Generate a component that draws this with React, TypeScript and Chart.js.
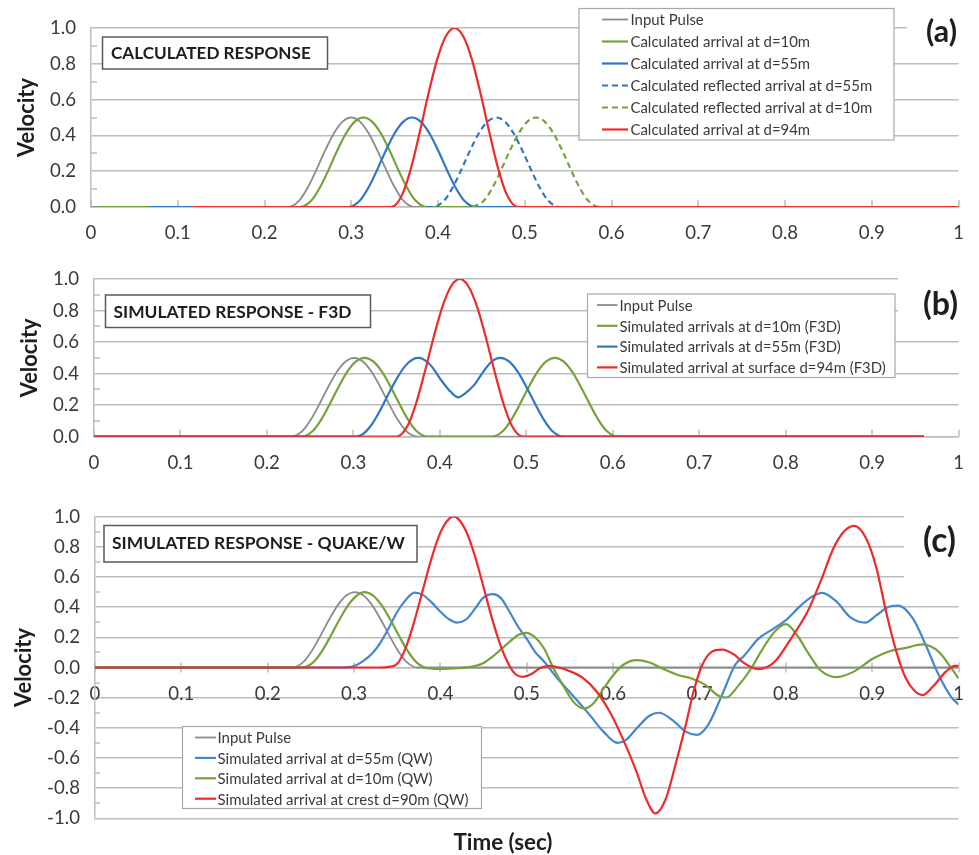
import React, { useEffect, useRef } from "react";
import { Chart, registerables } from "chart.js";

Chart.register(...registerables);

// ---------------- tick labels & texts ----------------
const timeTickLabels = ["0", "0.1", "0.2", "0.3", "0.4", "0.5", "0.6", "0.7", "0.8", "0.9", "1"];
const velocityTicksPos = ["0.0", "0.2", "0.4", "0.6", "0.8", "1.0"];
const velocityTicksFull = ["-1.0", "-0.8", "-0.6", "-0.4", "-0.2", "0.0", "0.2", "0.4", "0.6", "0.8", "1.0"];
const panelTitles = ["CALCULATED RESPONSE", "SIMULATED RESPONSE - F3D", "SIMULATED RESPONSE - QUAKE/W"];
const panelTags = ["(a)", "(b)", "(c)"];
const yAxisTitle = "Velocity";
const xAxisTitle = "Time (sec)";

// ---------------- panel (a): calculated response ----------------
const aLabels = [
  "Input Pulse",
  "Calculated arrival at d=10m",
  "Calculated arrival at d=55m",
  "Calculated reflected arrival at d=55m",
  "Calculated reflected arrival at d=10m",
  "Calculated arrival at d=94m",
];
const aInputT = [0, 0.227, 0.24, 0.25, 0.26, 0.27, 0.28, 0.29, 0.3, 0.31, 0.32, 0.33, 0.34, 0.35, 0.36, 0.373, 1.0];
const aInputV = [0, 0, 0.036, 0.11, 0.21, 0.317, 0.412, 0.477, 0.5, 0.477, 0.412, 0.317, 0.21, 0.11, 0.036, 0, 0];
const aD10T = [0.01, 0.241, 0.254, 0.264, 0.274, 0.284, 0.294, 0.304, 0.314, 0.324, 0.334, 0.344, 0.354, 0.364, 0.374, 0.387, 1.0];
const aD10V = [0, 0, 0.036, 0.11, 0.21, 0.317, 0.412, 0.477, 0.5, 0.477, 0.412, 0.317, 0.21, 0.11, 0.036, 0, 0];
const aD55T = [0.067, 0.297, 0.31, 0.32, 0.33, 0.34, 0.35, 0.36, 0.37, 0.38, 0.39, 0.4, 0.41, 0.42, 0.43, 0.443, 1.0];
const aD55V = [0, 0, 0.036, 0.11, 0.21, 0.317, 0.412, 0.477, 0.5, 0.477, 0.412, 0.317, 0.21, 0.11, 0.036, 0, 0];
const aRefl55T = [0.387, 0.394, 0.407, 0.417, 0.427, 0.437, 0.447, 0.457, 0.467, 0.477, 0.487, 0.497, 0.507, 0.517, 0.527, 0.54, 0.62];
const aRefl55V = [0, 0, 0.036, 0.11, 0.21, 0.317, 0.412, 0.477, 0.5, 0.477, 0.412, 0.317, 0.21, 0.11, 0.036, 0, 0];
const aRefl10T = [0.44, 0.453, 0.463, 0.473, 0.483, 0.493, 0.503, 0.513, 0.523, 0.533, 0.543, 0.553, 0.563, 0.573, 0.586, 0.66];
const aRefl10V = [0, 0.036, 0.11, 0.21, 0.317, 0.412, 0.477, 0.5, 0.477, 0.412, 0.317, 0.21, 0.11, 0.036, 0, 0];
const aD94T = [0.117, 0.346, 0.359, 0.369, 0.379, 0.389, 0.399, 0.409, 0.419, 0.429, 0.439, 0.449, 0.459, 0.469, 0.479, 0.492, 1.0];
const aD94V = [0, 0, 0.072, 0.22, 0.42, 0.634, 0.825, 0.954, 1, 0.954, 0.825, 0.634, 0.42, 0.22, 0.072, 0, 0];

// ---------------- panel (b): simulated response F3D ----------------
const bLabels = [
  "Input Pulse",
  "Simulated arrivals at d=10m (F3D)",
  "Simulated arrivals at d=55m (F3D)",
  "Simulated arrival at surface d=94m (F3D)",
];
const bInputT = [0, 0.228, 0.241, 0.251, 0.261, 0.271, 0.281, 0.291, 0.301, 0.311, 0.321, 0.331, 0.341, 0.351, 0.361, 0.374, 0.96];
const bInputV = [0, 0, 0.036, 0.11, 0.21, 0.317, 0.412, 0.477, 0.5, 0.477, 0.412, 0.317, 0.21, 0.11, 0.036, 0, 0];
const bD10T = [0, 0.24, 0.253, 0.263, 0.273, 0.283, 0.293, 0.303, 0.313, 0.323, 0.333, 0.343, 0.353, 0.363, 0.373, 0.386,
  0.46, 0.473, 0.483, 0.493, 0.503, 0.513, 0.523, 0.533, 0.543, 0.553, 0.563, 0.573, 0.583, 0.593, 0.606, 0.96];
const bD10V = [0, 0, 0.036, 0.11, 0.21, 0.317, 0.412, 0.477, 0.5, 0.477, 0.412, 0.317, 0.21, 0.11, 0.036, 0,
  0, 0.036, 0.11, 0.21, 0.317, 0.412, 0.477, 0.5, 0.477, 0.412, 0.317, 0.21, 0.11, 0.036, 0, 0];
const bD55T = [0, 0.3, 0.31, 0.32, 0.33, 0.34, 0.35, 0.36, 0.37, 0.375, 0.38, 0.39, 0.4, 0.41, 0.421, 0.43, 0.44, 0.45,
  0.46, 0.47, 0.48, 0.49, 0.5, 0.51, 0.52, 0.53, 0.543, 0.96];
const bD55V = [0, 0, 0.013, 0.068, 0.157, 0.264, 0.367, 0.449, 0.494, 0.5, 0.494, 0.449, 0.37, 0.3, 0.25, 0.278, 0.33, 0.41,
  0.477, 0.5, 0.477, 0.412, 0.317, 0.21, 0.11, 0.036, 0, 0];
const bD94T = [0, 0.35, 0.363, 0.373, 0.383, 0.393, 0.403, 0.413, 0.423, 0.433, 0.443, 0.453, 0.463, 0.473, 0.483, 0.496, 0.96];
const bD94V = [0, 0, 0.072, 0.22, 0.42, 0.634, 0.825, 0.954, 1, 0.954, 0.825, 0.634, 0.42, 0.22, 0.072, 0, 0];

// ---------------- panel (c): simulated response QUAKE/W ----------------
const cLabels = [
  "Input Pulse",
  "Simulated arrival at d=55m (QW)",
  "Simulated arrival at d=10m (QW)",
  "Simulated arrival at crest d=90m (QW)",
];
const cInputT = [0, 0.228, 0.241, 0.251, 0.261, 0.271, 0.281, 0.291, 0.301, 0.311, 0.321, 0.331, 0.341, 0.351, 0.361, 0.374, 1.0];
const cInputV = [0, 0, 0.036, 0.11, 0.21, 0.317, 0.412, 0.477, 0.5, 0.477, 0.412, 0.317, 0.21, 0.11, 0.036, 0, 0];
const cD55T = [0, 0.285, 0.3, 0.31, 0.322, 0.33, 0.34, 0.35, 0.36, 0.37, 0.38, 0.39, 0.4, 0.41, 0.419, 0.43, 0.44, 0.45,
  0.461, 0.47, 0.48, 0.49, 0.5, 0.51, 0.52, 0.535, 0.554, 0.573, 0.589, 0.605, 0.615, 0.627, 0.642, 0.653, 0.669, 0.684,
  0.697, 0.71, 0.726, 0.741, 0.752, 0.768, 0.785, 0.8, 0.817, 0.829, 0.842, 0.859, 0.874, 0.892, 0.905, 0.918, 0.93,
  0.947, 0.962, 0.977, 0.992, 1.0];
const cD55V = [0, 0, 0.01, 0.04, 0.1, 0.16, 0.26, 0.37, 0.45, 0.497, 0.48, 0.43, 0.37, 0.32, 0.298, 0.32, 0.39, 0.465,
  0.486, 0.46, 0.37, 0.27, 0.19, 0.1, 0.04, -0.07, -0.19, -0.316, -0.427, -0.5, -0.48, -0.405, -0.32, -0.3, -0.35, -0.425,
  -0.447, -0.38, -0.183, 0.015, 0.08, 0.19, 0.255, 0.314, 0.41, 0.465, 0.495, 0.435, 0.336, 0.298, 0.347, 0.4, 0.41,
  0.325, 0.148, -0.05, -0.2, -0.245];
const cD10T = [0, 0.24, 0.253, 0.263, 0.273, 0.283, 0.293, 0.303, 0.312, 0.322, 0.332, 0.342, 0.352, 0.362, 0.372, 0.385,
  0.4, 0.42, 0.44, 0.45, 0.46, 0.47, 0.48, 0.49, 0.499, 0.509, 0.52, 0.531, 0.543, 0.554, 0.566, 0.577, 0.589, 0.6, 0.611,
  0.627, 0.642, 0.657, 0.676, 0.691, 0.707, 0.722, 0.731, 0.745, 0.76, 0.771, 0.787, 0.8, 0.813, 0.825, 0.84, 0.859,
  0.878, 0.901, 0.92, 0.939, 0.958, 0.977, 0.992, 1.0];
const cD10V = [0, 0, 0.036, 0.11, 0.21, 0.317, 0.412, 0.477, 0.5, 0.477, 0.412, 0.317, 0.21, 0.11, 0.036, -0.005,
  -0.01, -0.005, 0.01, 0.03, 0.07, 0.12, 0.17, 0.215, 0.23, 0.203, 0.126, -0.007, -0.128, -0.228, -0.272, -0.239, -0.139,
  -0.051, 0.015, 0.049, 0.033, -0.007, -0.051, -0.073, -0.117, -0.188, -0.199, -0.12, -0.005, 0.104, 0.237, 0.287,
  0.214, 0.104, -0.018, -0.064, -0.029, 0.06, 0.108, 0.13, 0.153, 0.104, -0.007, -0.073];
const cCrestT = [0, 0.33, 0.34, 0.35, 0.36, 0.37, 0.38, 0.39, 0.4, 0.41, 0.415, 0.42, 0.43, 0.44, 0.45, 0.46, 0.47, 0.48,
  0.487, 0.495, 0.505, 0.515, 0.526, 0.537, 0.547, 0.566, 0.581, 0.596, 0.611, 0.627, 0.638, 0.649, 0.661, 0.672, 0.684,
  0.693, 0.703, 0.714, 0.726, 0.741, 0.749, 0.768, 0.787, 0.806, 0.825, 0.84, 0.855, 0.867, 0.879, 0.893, 0.905, 0.916,
  0.928, 0.939, 0.95, 0.958, 0.97, 0.985, 0.996, 1.0];
const cCrestV = [0, 0, 0.004, 0.025, 0.134, 0.311, 0.523, 0.73, 0.896, 0.987, 1.0, 0.989, 0.9, 0.738, 0.531, 0.319, 0.14,
  0.01, -0.045, -0.062, -0.045, -0.005, 0.011, 0.0, -0.018, -0.073, -0.161, -0.294, -0.47, -0.69, -0.87, -0.968, -0.87,
  -0.648, -0.382, -0.161, 0.015, 0.104, 0.119, 0.082, 0.04, -0.011, 0.038, 0.192, 0.369, 0.568, 0.789, 0.9, 0.939, 0.855,
  0.656, 0.369, 0.104, -0.073, -0.161, -0.183, -0.128, -0.029, 0.011, 0.01];

// ---------------- styling ----------------
const FONT = "Lato, 'Open Sans', 'DejaVu Sans', sans-serif";
const GRAY = "#8c8c8c";
const GREEN = "#77a23b";
const BLUE = "#2f77c4";
const BLUE_C = "#4587cd";
const RED = "#ee2a2a";
const GRID = "#bdbdbd";
const TEXT = "#3a3a3a";

function measureW(text: string, weight: string, size: number): number {
  const c = document.createElement("canvas").getContext("2d")!;
  c.font = `${weight} ${size}px ${FONT}`;
  return c.measureText(text).width;
}
function fitSize(text: string, weight: string, target: number): number {
  return (100 * target) / measureW(text, weight, 100);
}

const pts = (t: number[], v: number[]) => t.map((x, i) => ({ x, y: v[i] }));

type Decor = {
  tickUp: number;
  tickDown: number;
  minorLen: number;
  titleBox: { x: number; y: number; w: number; h: number; textX: number; textY: number; textW: number; text: string };
  tag: { text: string; cx: number; cy: number; w: number; clear: [number, number, number, number] };
  legend: { x: number; y: number; w: number; h: number; rowY0: number; gap: number; lx0: number; lx1: number; textX: number; textW: number };
  extra?: { text: string; cx: number; cy: number; w: number }[];
};

function makeDecor(d: Decor) {
  return {
    id: "decor",
    beforeDatasetsDraw(chart: any) {
      const { ctx, chartArea } = chart;
      const xs = chart.scales.x;
      const ys = chart.scales.y;
      ctx.save();
      ctx.strokeStyle = GRID;
      ctx.lineWidth = 1.5;
      const y0 = ys.getPixelForValue(0);
      ctx.beginPath();
      xs.ticks.forEach((t: any) => {
        const px = Math.round(xs.getPixelForValue(t.value));
        ctx.moveTo(px, y0 - d.tickUp);
        ctx.lineTo(px, y0 + d.tickDown);
      });
      const tv = ys.ticks.map((t: any) => t.value);
      for (let i = 0; i < tv.length - 1; i++) {
        const py = Math.round(ys.getPixelForValue((tv[i] + tv[i + 1]) / 2));
        ctx.moveTo(chartArea.left, py);
        ctx.lineTo(chartArea.left + d.minorLen, py);
      }
      ctx.stroke();
      ctx.restore();
    },
    afterDraw(chart: any) {
      const { ctx } = chart;
      ctx.save();
      // tag with white background
      const [cx0, cy0, cw, ch] = d.tag.clear;
      ctx.fillStyle = "#ffffff";
      ctx.fillRect(cx0, cy0, cw, ch);
      const tagSize = fitSize(d.tag.text, "bold", d.tag.w);
      ctx.font = `bold ${tagSize}px ${FONT}`;
      ctx.fillStyle = "#1e1e1e";
      ctx.textAlign = "center";
      ctx.textBaseline = "middle";
      ctx.fillText(d.tag.text, d.tag.cx, d.tag.cy);

      // title box
      const tb = d.titleBox;
      ctx.fillStyle = "#ffffff";
      ctx.fillRect(tb.x, tb.y, tb.w, tb.h);
      ctx.strokeStyle = "#5a5a5a";
      ctx.lineWidth = 1.5;
      ctx.strokeRect(tb.x, tb.y, tb.w, tb.h);
      const ts = fitSize(tb.text, "bold", tb.textW);
      ctx.font = `bold ${ts}px ${FONT}`;
      ctx.fillStyle = "#1e1e1e";
      ctx.textAlign = "left";
      ctx.fillText(tb.text, tb.textX, tb.textY);

      // legend
      const L = d.legend;
      const ds = chart.data.datasets;
      ctx.fillStyle = "#ffffff";
      ctx.fillRect(L.x, L.y, L.w, L.h);
      ctx.strokeStyle = "#a8a8a8";
      ctx.lineWidth = 1.2;
      ctx.strokeRect(L.x, L.y, L.w, L.h);
      let widest = 0;
      ds.forEach((s: any) => { widest = Math.max(widest, measureW(s.label, "normal", 100)); });
      const ls = (100 * L.textW) / widest;
      ctx.font = `${ls}px ${FONT}`;
      ds.forEach((s: any, i: number) => {
        const y = L.rowY0 + i * L.gap;
        ctx.save();
        ctx.strokeStyle = s.borderColor;
        ctx.lineWidth = s.borderWidth;
        ctx.setLineDash(s.borderDash || []);
        ctx.beginPath();
        ctx.moveTo(L.lx0, y);
        ctx.lineTo(L.lx1, y);
        ctx.stroke();
        ctx.restore();
        ctx.fillStyle = TEXT;
        ctx.textAlign = "left";
        ctx.textBaseline = "middle";
        ctx.fillText(s.label, L.textX, y + 1);
      });

      (d.extra || []).forEach((e) => {
        const es = fitSize(e.text, "bold", e.w);
        ctx.font = `bold ${es}px ${FONT}`;
        ctx.fillStyle = "#1e1e1e";
        ctx.textAlign = "center";
        ctx.textBaseline = "middle";
        ctx.fillText(e.text, e.cx, e.cy);
      });
      ctx.restore();
    },
  };
}

type PanelCfg = {
  datasets: any[];
  yMin: number;
  yLabels: string[];
  padTop: number;
  padRight: number;
  padBottom: number;
  yWidth: number;
  xHeight: number;
  xAtZero: boolean;
  yTitleX: number;
  decor: Decor;
};

function buildChart(canvas: HTMLCanvasElement, cfg: PanelCfg) {
  const tickSize = fitSize("0.8", "normal", 26);
  const yTitleSize = fitSize(yAxisTitle, "bold", 79);
  const yTitleLH = yTitleSize * 1.2;
  const n = cfg.datasets.length;
  const datasets = cfg.datasets.map((d, i) => ({
    pointRadius: 0,
    pointHoverRadius: 0,
    fill: false,
    cubicInterpolationMode: "monotone",
    order: n - i,
    ...d,
  }));
  return new Chart(canvas, {
    type: "line",
    data: { datasets },
    plugins: [makeDecor(cfg.decor)],
    options: {
      responsive: false,
      animation: false,
      events: [],
      layout: { padding: { left: 0, top: cfg.padTop, right: cfg.padRight, bottom: cfg.padBottom } },
      plugins: { legend: { display: false }, tooltip: { enabled: false }, title: { display: false } },
      scales: {
        x: {
          type: "linear",
          min: 0,
          max: 1,
          position: cfg.xAtZero ? { y: 0 } : "bottom",
          afterFit: (s: any) => { s.height = cfg.xHeight; },
          grid: { drawOnChartArea: false, drawTicks: false },
          border: { display: true, color: GRID, width: 1.5 },
          ticks: {
            stepSize: 0.1,
            autoSkip: false,
            maxRotation: 0,
            padding: 15,
            color: TEXT,
            font: { family: FONT, size: tickSize },
            callback: (_v: any, i: number) => timeTickLabels[i],
          },
        },
        y: {
          type: "linear",
          min: cfg.yMin,
          max: 1,
          afterFit: (s: any) => { s.width = cfg.yWidth; },
          grid: { color: GRID, lineWidth: 1.5, drawTicks: false },
          border: { display: true, color: GRID, width: 1.5 },
          ticks: {
            stepSize: 0.2,
            padding: 15,
            color: TEXT,
            font: { family: FONT, size: tickSize },
            callback: (_v: any, i: number) => cfg.yLabels[i],
          },
          title: {
            display: true,
            text: yAxisTitle,
            color: "#1e1e1e",
            font: { family: FONT, size: yTitleSize, weight: "bold" },
            padding: { top: cfg.yTitleX - yTitleLH / 2, bottom: 0 },
          },
        },
      },
    } as any,
  });
}

export default function App() {
  const refA = useRef<HTMLCanvasElement>(null);
  const refB = useRef<HTMLCanvasElement>(null);
  const refC = useRef<HTMLCanvasElement>(null);

  useEffect(() => {
    const charts: Chart[] = [];
    charts.push(
      buildChart(refA.current!, {
        datasets: [
          { label: aLabels[0], data: pts(aInputT, aInputV), borderColor: GRAY, borderWidth: 1.8 },
          { label: aLabels[1], data: pts(aD10T, aD10V), borderColor: GREEN, borderWidth: 2.2 },
          { label: aLabels[2], data: pts(aD55T, aD55V), borderColor: BLUE, borderWidth: 2.2 },
          { label: aLabels[3], data: pts(aRefl55T, aRefl55V), borderColor: BLUE, borderWidth: 2.2, borderDash: [6, 4] },
          { label: aLabels[4], data: pts(aRefl10T, aRefl10V), borderColor: GREEN, borderWidth: 2.2, borderDash: [6, 4] },
          { label: aLabels[5], data: pts(aD94T, aD94V), borderColor: RED, borderWidth: 2.2 },
        ],
        yMin: 0,
        yLabels: velocityTicksPos,
        padTop: 28,
        padRight: 13,
        padBottom: 0,
        yWidth: 91,
        xHeight: 33,
        xAtZero: false,
        yTitleX: 27,
        decor: {
          tickUp: 7,
          tickDown: 0,
          minorLen: 6,
          titleBox: { x: 102.5, y: 37, w: 225, h: 32, textX: 111, textY: 53.5, textW: 200, text: panelTitles[0] },
          tag: { text: panelTags[0], cx: 941.5, cy: 32.5, w: 31, clear: [907, 14, 72, 36] },
          legend: { x: 579, y: 8.5, w: 315, h: 131.5, rowY0: 19.5, gap: 22, lx0: 602, lx1: 628, textX: 630.5, textW: 242 },
        },
      })
    );
    charts.push(
      buildChart(refB.current!, {
        datasets: [
          { label: bLabels[0], data: pts(bInputT, bInputV), borderColor: GRAY, borderWidth: 1.8 },
          { label: bLabels[1], data: pts(bD10T, bD10V), borderColor: GREEN, borderWidth: 2.2 },
          { label: bLabels[2], data: pts(bD55T, bD55V), borderColor: BLUE, borderWidth: 2.2 },
          { label: bLabels[3], data: pts(bD94T, bD94V), borderColor: RED, borderWidth: 2.2 },
        ],
        yMin: 0,
        yLabels: velocityTicksPos,
        padTop: 39,
        padRight: 9,
        padBottom: 0,
        yWidth: 94,
        xHeight: 43.3,
        xAtZero: false,
        yTitleX: 29.5,
        decor: {
          tickUp: 7,
          tickDown: 0,
          minorLen: 6,
          titleBox: { x: 105.5, y: 55, w: 265, h: 32.5, textX: 113.5, textY: 72, textW: 238, text: panelTitles[1] },
          tag: { text: panelTags[1], cx: 940.5, cy: 65, w: 35, clear: [898, 34, 81, 54] },
          legend: { x: 587.5, y: 54, w: 307.5, h: 83.5, rowY0: 65, gap: 20.8, lx0: 597, lx1: 617.5, textX: 619.5, textW: 266.5 },
        },
      })
    );
    charts.push(
      buildChart(refC.current!, {
        datasets: [
          { label: cLabels[0], data: pts(cInputT, cInputV), borderColor: GRAY, borderWidth: 1.8 },
          { label: cLabels[1], data: pts(cD55T, cD55V), borderColor: BLUE_C, borderWidth: 2.2 },
          { label: cLabels[2], data: pts(cD10T, cD10V), borderColor: GREEN, borderWidth: 2.2 },
          { label: cLabels[3], data: pts(cCrestT, cCrestV), borderColor: RED, borderWidth: 2.2 },
        ],
        yMin: -1,
        yLabels: velocityTicksFull,
        padTop: 56.7,
        padRight: 9,
        padBottom: 36.7,
        yWidth: 95,
        xHeight: 0,
        xAtZero: true,
        yTitleX: 24,
        decor: {
          tickUp: 5,
          tickDown: 5,
          minorLen: 5,
          titleBox: { x: 104, y: 65.5, w: 313, h: 36.5, textX: 112, textY: 83, textW: 293, text: panelTitles[2] },
          tag: { text: panelTags[2], cx: 939.5, cy: 81, w: 33, clear: [904, 50, 75, 72] },
          legend: { x: 182.5, y: 266.5, w: 299, h: 82, rowY0: 277.5, gap: 20.4, lx0: 195, lx1: 216, textX: 217.5, textW: 251 },
          extra: [{ text: xAxisTitle, cx: 503, cy: 382.5, w: 99 }],
        },
      })
    );
    return () => charts.forEach((c) => c.destroy());
  }, []);

  const cs = (top: number, h: number): React.CSSProperties => ({
    position: "absolute", left: 0, top, width: 979, height: h, display: "block",
  });

  return (
    <div style={{ position: "absolute", left: 0, top: 0, width: 979, height: 855, background: "#ffffff", overflow: "hidden" }}>
      <canvas ref={refA} width={979} height={240} style={cs(0, 240)} />
      <canvas ref={refB} width={979} height={240} style={cs(240, 240)} />
      <canvas ref={refC} width={979} height={395} style={cs(460, 395)} />
    </div>
  );
}
